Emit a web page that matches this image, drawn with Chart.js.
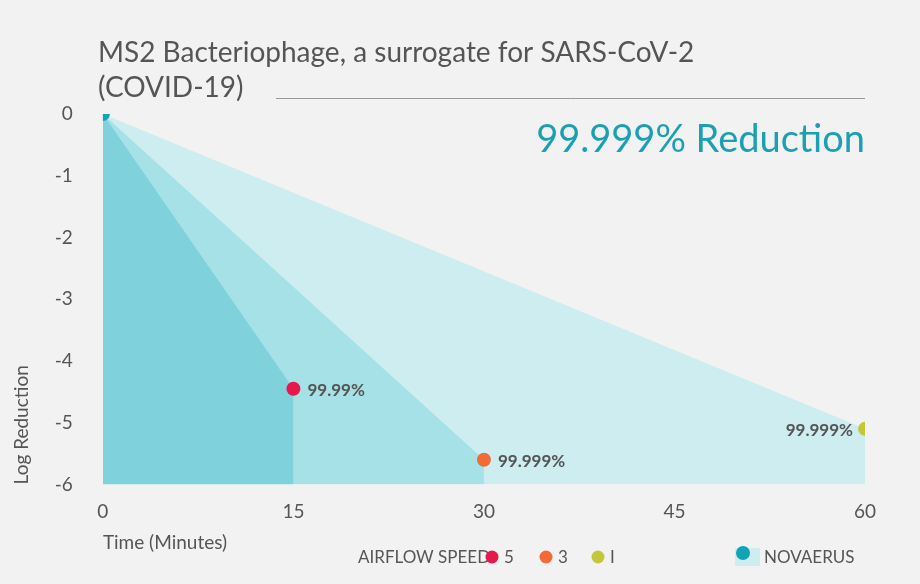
<!DOCTYPE html><html><head><meta charset="utf-8">
<script src="https://cdn.jsdelivr.net/npm/chart.js@4"></script>
<style>html,body{margin:0;background:#f2f2f2}#w{width:920px;height:584px}</style></head><body>
<div id="w"><canvas id="c"></canvas></div>
<script>
const xTicks=[0,15,30,45,60];
const speed5=[{x:0,y:0},{x:15,y:-4.45},{x:15,y:-6}];
const speed3=[{x:0,y:0},{x:30,y:-5.6},{x:30,y:-6}];
const speed1=[{x:0,y:0},{x:60,y:-5.1},{x:60,y:-6}];
const markers=[{x:15,y:-4.45,c:'#e5194a',t:'99.99%',side:'r'},{x:30,y:-5.6,c:'#f26a35',t:'99.999%',side:'r'},{x:60,y:-5.1,c:'#c5c73a',t:'99.999%',side:'l'}];
const F="Lato, 'Open Sans', sans-serif";
const deco={id:'deco',afterDatasetsDraw(ch){const g=ch.ctx,x=ch.scales.x,y=ch.scales.y;g.save();
g.fillStyle='#555';g.font='28px '+F;g.textBaseline='alphabetic';
g.fillText('MS2 Bacteriophage, a surrogate for SARS-CoV-2',98,62);g.fillText('(COVID-19)',98,97);
g.strokeStyle='#999';g.lineWidth=1;g.beginPath();g.moveTo(276,98.5);g.lineTo(865,98.5);g.stroke();
g.fillStyle='#1aa0b2';g.font='38px '+F;g.textAlign='right';g.fillText('99.999% Reduction',865,152);
g.font='bold 17px '+F;g.fillStyle='#555';g.textBaseline='middle';
markers.forEach(m=>{const px=x.getPixelForValue(m.x),py=y.getPixelForValue(m.y);g.textAlign=m.side=='r'?'left':'right';g.fillText(m.t,m.side=='r'?px+14:px-12,py+2);});
g.textAlign='left';g.font='17px '+F;g.fillStyle='#555';g.fillText('AIRFLOW SPEED:',358,558);
const leg=[['#e5194a','5',492],['#f26a35','3',546],['#c5c73a','I',598]];
leg.forEach(l=>{g.fillStyle=l[0];g.beginPath();g.arc(l[2],557,6.5,0,7);g.fill();g.fillStyle='#555';g.fillText(l[1],l[2]+12,558);});
g.fillStyle='#cdedf1';g.beginPath();g.moveTo(735,548);g.lineTo(760,548);g.lineTo(760,566);g.lineTo(735,566);g.closePath();g.fill();
g.fillStyle='#12a3b5';g.beginPath();g.arc(743,553,7,0,7);g.fill();
g.fillStyle='#555';g.fillText('NOVAERUS',764,558);
g.restore();}};
const area=(d,c,o)=>({type:'line',data:d,backgroundColor:c,borderWidth:0,pointRadius:0,fill:'start',order:o,tension:0});
const pt=(d,c)=>({type:'scatter',data:d,backgroundColor:c,borderWidth:0,pointRadius:7,order:0});
new Chart(document.getElementById('c'),{data:{datasets:[
area(speed5,'#7fd1dc',3),area(speed3,'#a6e1e8',4),area(speed1,'#cdedf1',5),
pt([{x:0,y:0}],'#12a3b5'),...markers.map(m=>pt([{x:m.x,y:m.y}],m.c))]},
options:{responsive:true,maintainAspectRatio:false,animation:false,layout:{padding:{left:10,right:55,top:114,bottom:30}},
plugins:{legend:{display:false},tooltip:{enabled:false}},
scales:{x:{type:'linear',min:0,max:60,afterBuildTicks:a=>{a.ticks=xTicks.map(v=>({value:v}))},grid:{display:false},border:{display:false},
ticks:{color:'#555',font:{family:F,size:19},padding:8},title:{display:true,text:'Time (Minutes)',align:'start',color:'#555',font:{family:F,size:19},padding:0}},
y:{min:-6,max:0,grid:{display:false},border:{display:false},ticks:{stepSize:1,color:'#555',font:{family:F,size:19},padding:22},
title:{display:true,text:'Log Reduction',align:'start',color:'#555',font:{family:F,size:19},padding:0}}}},
plugins:[deco]});
</script></body></html>
